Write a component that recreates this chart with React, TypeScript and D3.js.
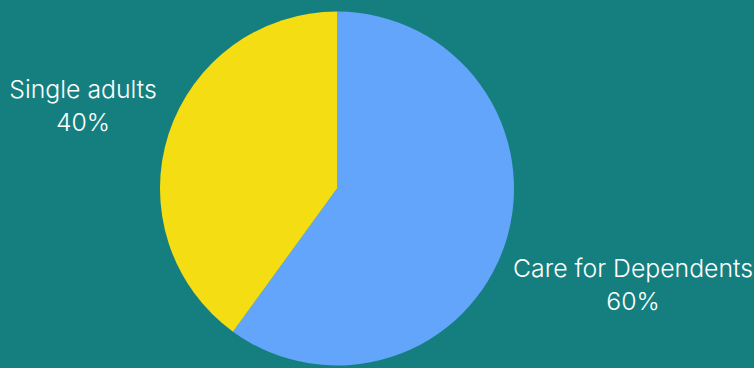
import React from "react";
import * as d3 from "d3";

const categories = ["Care for Dependents", "Single adults"];
const values = [60, 40];
const colors = ["#63a5fa", "#f5dd14"];

const W = 754;
const H = 368;

export default function App() {
  const cx = 337;
  const cy = 188.5;
  const r = 177;
  const pie = d3.pie<number>().sort(null).value((d) => d);
  const arcs = pie(values);
  const arc = d3.arc<d3.PieArcDatum<number>>().innerRadius(0).outerRadius(r);
  const labelPos = [
    { x: 633, y: 277 },
    { x: 83, y: 98 },
  ];
  return (
    <svg
      width={W}
      height={H}
      style={{ position: "absolute", left: 0, top: 0, display: "block" }}
    >
      <rect width={W} height={H} fill="#157f80" />
      <g transform={`translate(${cx},${cy})`}>
        {arcs.map((a, i) => (
          <path key={i} d={arc(a) || ""} fill={colors[i]} />
        ))}
      </g>
      {arcs.map((a, i) => (
        <text
          key={"t" + i}
          x={labelPos[i].x}
          y={labelPos[i].y}
          textAnchor="middle"
          fill="#ffffff"
          fontFamily="Inter, 'Open Sans', sans-serif"
          fontSize={24.8}
          fontWeight={300}
        >
          <tspan x={labelPos[i].x}>{categories[i]}</tspan>
          <tspan x={labelPos[i].x} dy={32.5}>
            {`${values[i]}%`}
          </tspan>
        </text>
      ))}
    </svg>
  );
}
